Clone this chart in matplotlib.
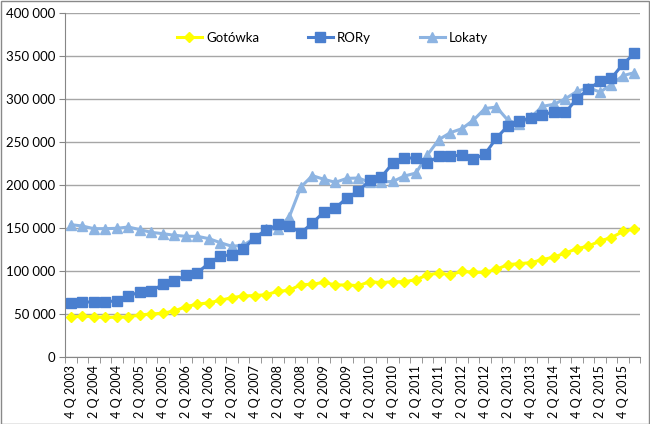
import numpy as np
import matplotlib
matplotlib.use("Agg")
import matplotlib.pyplot as plt
from matplotlib.patches import Rectangle
from matplotlib.ticker import FuncFormatter, FixedLocator

plt.rcParams['font.family'] = ['Lato', 'DejaVu Sans']

# quarters 4 Q 2003 .. 1 Q 2016
quarters = ['%d Q %d' % (q, y) for y in range(2003, 2017) for q in range(1, 5)][3:53]

gotowka = [46.5, 47.5, 47, 46, 46.5, 46.5, 49, 50, 51, 53.5,
           58.5, 61.5, 63, 66, 69, 71, 71.5, 72.5, 76.4, 77.6,
           84.2, 84.6, 86.9, 83.8, 83.8, 83, 87.7, 86.5, 87.7, 87.5,
           90, 95.4, 97.7, 95.5, 99.7, 98.5, 98.5, 102, 107.5, 108.6,
           109.8, 113.3, 116.3, 121, 126, 129, 135, 139, 146, 149]
rory = [63.2, 64, 64, 64, 65.6, 71, 75.6, 76.8, 84.5, 88.6,
        95, 98, 109, 117.5, 119, 125.6, 138.9, 147.4, 154.3, 152.8,
        144.2, 155.9, 168.6, 173.3, 185, 193, 205.5, 209.4, 225.6, 231.5,
        231.5, 226, 233.4, 233.8, 235, 230.3, 236, 254.7, 269, 274.5,
        278.4, 282, 285, 284.6, 300.5, 311.4, 321, 324.5, 340.8, 353.2]
lokaty = [154, 152.4, 149.3, 149.3, 149.7, 151.2, 148.2, 145, 143.5, 141.6,
          140.4, 140.4, 137.7, 133, 128.8, 130, 138.4, 148.5, 149.3, 163.2,
          197.7, 211, 206.7, 203.2, 207.8, 208.2, 203.2, 203.6, 204.2, 210.5,
          214, 235, 253, 261, 265.6, 275.5, 289, 290.8, 275.3, 270.6,
          279, 291.6, 294, 300.5, 309, 313.3, 308.2, 316.8, 327.3, 330.8]

x = np.arange(len(quarters))
scale = 1000

fig = plt.figure(figsize=(6.5, 4.24), dpi=100)
ax = fig.add_axes([0.1, 0.158, 0.885, 0.811])

ax.plot(x, np.array(gotowka) * scale, color='#ffff00', lw=2.2, marker='D', ms=5,
        label='Gotówka', zorder=3)
ax.plot(x, np.array(rory) * scale, color='#4a7fcf', lw=2.2, marker='s', ms=7,
        label='RORy', zorder=4)
ax.plot(x, np.array(lokaty) * scale, color='#8db4e2', lw=2.2, marker='^', ms=7.5,
        label='Lokaty', zorder=3)

ax.set_xlim(-0.5, len(quarters) - 0.5)
ax.set_ylim(0, 400000)
ax.set_yticks(np.arange(0, 400001, 50000))
ax.yaxis.set_major_formatter(FuncFormatter(lambda v, p: '{:,.0f}'.format(v).replace(',', ' ')))
ax.grid(axis='y', color='#a6a6a6', lw=1)
ax.set_axisbelow(True)

ax.set_xticks(x[::2])
ax.set_xticklabels(quarters[::2], rotation=90, fontsize=9)
ax.xaxis.set_minor_locator(FixedLocator(np.arange(-0.5, len(quarters), 1)))
ax.tick_params(axis='x', which='major', length=0, pad=6)
ax.tick_params(axis='x', which='minor', length=4, color='#868686')
ax.tick_params(axis='y', length=4, color='#868686', labelsize=9.5, pad=3)

for s in ['top', 'right']:
    ax.spines[s].set_visible(False)
for s in ['left', 'bottom']:
    ax.spines[s].set_color('#868686')

ax.legend(loc='upper center', bbox_to_anchor=(0.465, 0.98), ncol=3, frameon=False,
          fontsize=9.5, columnspacing=3.7, handlelength=1.9, handletextpad=0.3)

fig.patches.append(Rectangle((0.001, 0.001), 0.997, 0.997, transform=fig.transFigure,
                             fill=False, edgecolor='#898989', lw=1))

fig.savefig('out.png', dpi=100)
